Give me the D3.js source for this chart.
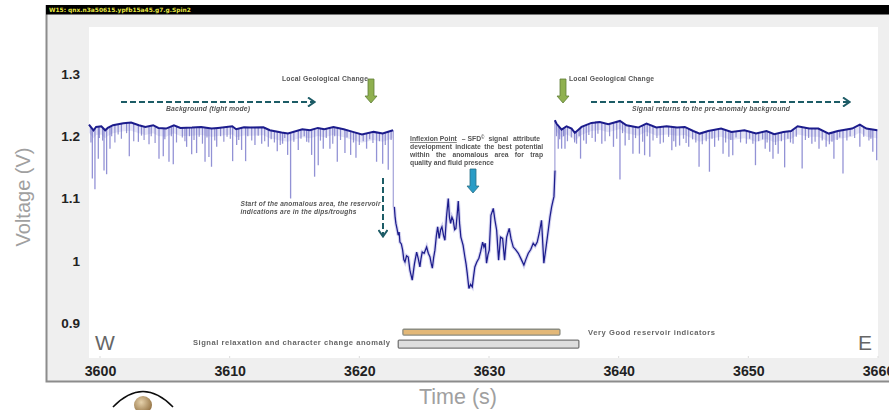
<!DOCTYPE html>
<html><head><meta charset="utf-8">
<script src="https://cdnjs.cloudflare.com/ajax/libs/d3/7.8.5/d3.min.js"></script>
<style>
html,body{margin:0;padding:0;background:#fff;overflow:hidden}
svg{display:block;font-family:"Liberation Sans",Arial,sans-serif}
</style></head><body>
<svg id="c" width="889" height="410"></svg>
<script>
const xTicks=[3600,3610,3620,3630,3640,3650,3660];
const yTicks=[0.9,1,1.1,1.2,1.3];
const yTickLabels=["0.9","1","1.1","1.2","1.3"];

const leftTimes=[3599.15,3599.5,3599.7,3600.1,3600.4,3600.6,3601,3601.8,3602.4,3603,3603.5,3604.1,3604.5,3605.1,3605.7,3606.2,3607.1,3607.8,3608.6,3609.1,3610.2,3610.5,3611.1,3611.6,3612.6,3613.1,3614,3614.5,3615.6,3616.2,3616.8,3617.3,3618,3618.8,3619.5,3620.2,3621.1,3621.8,3622.6];
const leftVolts=[1.2188,1.2096,1.215,1.216,1.2096,1.2134,1.2177,1.2209,1.222,1.2177,1.215,1.2177,1.2134,1.2123,1.2177,1.2134,1.214,1.215,1.2123,1.2134,1.216,1.2112,1.2144,1.214,1.2145,1.2096,1.2059,1.2043,1.2112,1.2096,1.2134,1.2112,1.215,1.2112,1.207,1.2027,1.207,1.2043,1.2096];

const anomalyTimes=[3622.7,3622.76,3622.82,3622.9,3623,3623.07,3623.13,3623.24,3623.34,3623.43,3623.52,3623.64,3623.77,3623.9,3624.08,3624.25,3624.42,3624.55,3624.67,3624.76,3624.85,3625,3625.19,3625.32,3625.45,3625.54,3625.63,3625.73,3625.83,3625.94,3626.04,3626.16,3626.27,3626.37,3626.5,3626.6,3626.72,3626.86,3626.95,3627.04,3627.14,3627.24,3627.35,3627.45,3627.55,3627.63,3627.73,3627.83,3628,3628.14,3628.23,3628.32,3628.45,3628.58,3628.71,3628.81,3628.91,3629.06,3629.22,3629.36,3629.51,3629.61,3629.71,3629.81,3629.92,3630.02,3630.15,3630.33,3630.46,3630.59,3630.74,3630.82,3630.89,3631.05,3631.2,3631.28,3631.36,3631.56,3631.7,3631.87,3632.05,3632.26,3632.47,3632.69,3632.86,3633.03,3633.22,3633.41,3633.56,3633.72,3633.88,3634.05,3634.23,3634.4,3634.57,3634.7,3634.83,3634.92,3635.01,3635.09];
const anomalyVolts=[1.0865,1.07,1.06,1.052,1.041,1.046,1.03,1.027,1.017,1.002,0.998,1.008,1.006,0.985,0.969,0.995,1.014,1.003,0.99,1.004,1.014,1.012,1.022,1.012,1.006,0.996,0.988,1.005,1.017,1.04,1.0545,1.036,1.05,1.0545,1.04,1.033,1.07,1.1,1.07,1.06,1.07,1.065,1.05,1.052,1.075,1.096,1.06,1.038,1.025,1.006,0.995,0.98,0.9555,0.962,0.958,0.975,0.99,0.998,1.004,1.015,1.03,1.022,1.028,0.996,1.01,1.017,1.073,1.084,1.065,1.049,1.001,1.02,1.038,1.036,1.001,1.02,1.038,1.052,1.035,1.022,1.018,1.012,1.003,0.993,1.003,1.012,1.018,1.028,1.024,1.03,1.045,1.065,0.996,1.022,1.049,1.07,1.0865,1.095,1.103,1.145];

const rightTimes=[3635.08,3635.2,3635.6,3635.98,3636.37,3636.62,3637.14,3637.9,3638.55,3639.2,3640.1,3640.6,3641.5,3642.15,3642.9,3643.7,3644.5,3645.1,3645.75,3646.26,3646.9,3647.9,3648.7,3649.7,3650.6,3651.4,3652,3652.7,3653.3,3653.8,3654.7,3655.4,3656.2,3656.9,3658,3658.6,3659.1,3659.95];
const rightVolts=[1.2257,1.2204,1.2107,1.216,1.2123,1.2054,1.215,1.2214,1.223,1.2193,1.2246,1.2177,1.214,1.2204,1.214,1.216,1.214,1.215,1.2085,1.2043,1.2085,1.2123,1.2069,1.2096,1.2043,1.2085,1.2032,1.2069,1.2085,1.216,1.2123,1.2123,1.2043,1.2085,1.2123,1.2188,1.2123,1.2096];

const dipTimes=[3599.41,3599.61,3599.87,3600.31,3600.51,3600.77,3602.26,3602.96,3603.78,3604.55,3604.88,3605.32,3605.65,3606.68,3607.07,3607.45,3608.1,3608.4,3608.6,3609,3610.23,3610.54,3610.92,3611.23,3611.95,3612.47,3612.98,3613.67,3614.08,3614.47,3614.7,3615.29,3615.94,3616.32,3616.55,3616.83,3617.22,3617.73,3618.3,3618.89,3619.33,3619.74,3620.56,3621.33,3621.8,3622.23,3635.34,3635.6,3635.86,3636.75,3637.06,3637.5,3638.2,3638.7,3639.6,3640.1,3640.5,3641.1,3641.6,3642,3642.4,3643.2,3644.1,3644.4,3644.7,3645.4,3646.2,3647,3647.4,3648.05,3648.5,3648.8,3649.85,3650.55,3651.3,3651.65,3651.9,3652.3,3652.8,3653.45,3654.15,3654.9,3655.45,3656,3656.6,3657.3,3658.6,3659.6,3659.9];
const dipVolts=[1.132,1.115,1.164,1.145,1.139,1.18,1.168,1.191,1.187,1.164,1.168,1.159,1.155,1.183,1.171,1.173,1.159,1.1665,1.151,1.183,1.16,1.186,1.178,1.16,1.186,1.188,1.183,1.176,1.188,1.17,1.1,1.178,1.191,1.17,1.135,1.1535,1.18,1.18,1.159,1.173,1.17,1.1655,1.18,1.159,1.156,1.146,1.18,1.18,1.18,1.188,1.164,1.188,1.191,1.188,1.183,1.1305,1.185,1.172,1.172,1.1695,1.167,1.188,1.1775,1.183,1.185,1.183,1.151,1.143,1.183,1.172,1.167,1.1695,1.188,1.1535,1.18,1.175,1.164,1.172,1.15,1.188,1.148,1.188,1.18,1.183,1.164,1.14,1.183,1.175,1.1615];

const shortTimes=[3599.3,3599.95,3600.2,3600.9,3601.15,3601.4,3601.65,3602.05,3602.6,3603.2,3603.4,3603.95,3604.25,3605,3605.5,3605.9,3606.35,3606.55,3606.9,3607.25,3607.65,3607.9,3608.25,3608.85,3609.3,3609.55,3609.8,3610.05,3610.7,3611.4,3611.7,3612.2,3612.7,3613.2,3613.45,3613.9,3614.25,3614.95,3615.5,3615.75,3616.1,3617,3617.45,3617.95,3618.1,3618.55,3619.05,3619.55,3620,3620.3,3620.8,3621.05,3621.55,3622,3622.45,3635.2,3635.45,3635.75,3636.05,3636.35,3636.6,3636.95,3637.3,3637.7,3637.95,3638.4,3638.95,3639.3,3639.85,3640.3,3640.8,3641.3,3641.85,3642.2,3642.65,3642.95,3643.45,3643.85,3644.25,3645,3645.2,3645.7,3645.95,3646.45,3646.75,3647.2,3647.7,3648.25,3648.65,3649.05,3649.4,3650.1,3650.35,3650.8,3651.1,3651.45,3652.1,3652.55,3653.05,3653.25,3653.7,3654.4,3654.65,3655.15,3655.7,3656.25,3656.45,3656.85,3657.05,3657.6,3657.85,3658.2,3658.9,3659.3,3659.45];
const shortLows=[1.19,1.197,1.193,1.2,1.19,1.203,1.196,1.205,1.192,1.201,1.194,1.2,1.189,1.195,1.2,1.19,1.198,1.192,1.2,1.194,1.199,1.188,1.198,1.193,1.2,1.191,1.199,1.196,1.194,1.2,1.193,1.201,1.192,1.195,1.19,1.186,1.197,1.191,1.196,1.2,1.19,1.193,1.197,1.188,1.2,1.194,1.198,1.19,1.186,1.192,1.195,1.189,1.192,1.186,1.194,1.2,1.195,1.2,1.192,1.198,1.19,1.2,1.193,1.202,1.197,1.204,1.192,1.2,1.196,1.205,1.194,1.197,1.191,1.2,1.193,1.197,1.19,1.199,1.192,1.196,1.189,1.195,1.19,1.187,1.192,1.196,1.193,1.19,1.194,1.198,1.19,1.196,1.188,1.192,1.195,1.19,1.186,1.192,1.196,1.19,1.199,1.194,1.197,1.191,1.193,1.187,1.191,1.194,1.198,1.193,1.2,1.197,1.199,1.193,1.196];

const cliffTimes=[3622.62,3635.08];
const cliffTops=[1.2096,1.2257];
const cliffLows=[1.0865,1.145];
const fringeDepth=0.013;

const tanBar=[3623.36,3635.47,0.890,0.8806];
const greyBar=[3623.0,3636.93,0.8726,0.8597];

const svg=d3.select("#c");
const x=d3.scaleLinear().domain([3600,3660]).range([100,878]);
const y=d3.scaleLinear().domain([0.9,1.3]).range([323,74]);
const navy="#1c1c8c";

const defs=svg.append("defs");
defs.append("filter").attr("id","soft").append("feGaussianBlur").attr("stdDeviation",0.5);
const rg=defs.append("radialGradient").attr("id","ball").attr("cx","40%").attr("cy","35%").attr("r","70%");
rg.append("stop").attr("offset","0").attr("stop-color","#e6d2ac");
rg.append("stop").attr("offset","1").attr("stop-color","#8f6d3d");
defs.append("marker").attr("id","chev").attr("viewBox","0 0 10 10").attr("refX",8).attr("refY",5)
  .attr("markerWidth",10).attr("markerHeight",10).attr("markerUnits","userSpaceOnUse").attr("orient","auto")
  .append("path").attr("d","M2,0.5L8.5,5L2,9.5").attr("fill","none").attr("stroke","#1f5b66").attr("stroke-width",2);

/* panel */
svg.append("rect").attr("x",46).attr("y",5).attr("width",843).attr("height",377).attr("fill","#efefef");
svg.append("rect").attr("x",89).attr("y",27).attr("width",789).attr("height",331).attr("fill","#fff");
svg.append("path").attr("d","M46.5,5V381.5H889").attr("fill","none").attr("stroke","#8c8c8c").attr("stroke-width",2);
svg.append("rect").attr("x",46).attr("y",5).attr("width",843).attr("height",9.5).attr("fill","#000");
svg.append("text").attr("x",49).attr("y",12.2).attr("fill","#e6e640").attr("font-family","DejaVu Sans")
  .attr("font-weight","bold").attr("font-size",5.9).text("W15: qnx.n3a50615.ypfb15a45.g7.g.Spin2");

/* axes */
const ax=svg.append("g").attr("transform","translate(0,358)")
  .call(d3.axisBottom(x).tickValues(xTicks).tickFormat(d3.format("d")).tickSize(0).tickPadding(8));
ax.select(".domain").remove();
ax.selectAll("text").attr("font-family","Liberation Sans").attr("font-weight","bold").attr("font-size",14.2).attr("fill","#222");
svg.append("g").selectAll("line").data(xTicks).join("line").attr("x1",x).attr("x2",x).attr("y1",356).attr("y2",358).attr("stroke","#ddd");
const ay=svg.append("g").attr("transform","translate(89,0)")
  .call(d3.axisLeft(y).tickValues(yTicks).tickFormat((d,i)=>yTickLabels[i]).tickSize(0).tickPadding(9));
ay.select(".domain").remove();
ay.selectAll("text").attr("font-family","Liberation Sans").attr("font-weight","bold").attr("font-size",13.5).attr("fill","#222");

svg.append("text").attr("transform","translate(30,197) rotate(-90)").attr("text-anchor","middle")
  .attr("font-size",20).attr("fill","#a0a0a0").text("Voltage (V)");
svg.append("text").attr("x",458).attr("y",404).attr("text-anchor","middle").attr("font-size",21.5).attr("fill","#a0a0a0").text("Time (s)");
svg.append("text").attr("x",95).attr("y",350).attr("font-size",21).attr("fill","#666").text("W");
svg.append("text").attr("x",858).attr("y",350).attr("font-size",21).attr("fill","#666").text("E");

/* signal */
const sig=svg.append("g").attr("filter","url(#soft)");
const bgT=[...leftTimes,...rightTimes], bgV=[...leftVolts,...rightVolts];
const env=d3.scaleLinear().domain(bgT).range(bgV);
const band=d3.area().x(d=>x(d[0])).y0(d=>y(d[1])).y1(d=>y(d[1]-fringeDepth));
[[leftTimes,leftVolts],[rightTimes,rightVolts]].forEach(([t,v])=>{
  sig.append("path").attr("d",band(t.map((a,i)=>[a,v[i]]))).attr("fill","#d4d3f0").attr("opacity",0.6);
});
sig.selectAll("line.dip").data(dipTimes).join("line").attr("class","dip")
  .attr("x1",d=>x(d)).attr("x2",d=>x(d)).attr("y1",d=>y(env(d)))
  .attr("y2",(d,i)=>y(dipVolts[i])).attr("stroke","#6665c4").attr("stroke-width",1.3).attr("opacity",0.7);
sig.selectAll("line.short").data(shortTimes).join("line").attr("class","short")
  .attr("x1",d=>x(d)).attr("x2",d=>x(d)).attr("y1",d=>y(env(d)))
  .attr("y2",(d,i)=>y(shortLows[i])).attr("stroke","#4e4db4").attr("stroke-width",1.2).attr("opacity",0.6);
sig.selectAll("line.cliff").data(cliffTimes).join("line").attr("class","cliff")
  .attr("x1",d=>x(d)).attr("x2",d=>x(d)).attr("y1",(d,i)=>y(cliffTops[i]))
  .attr("y2",(d,i)=>y(cliffLows[i])).attr("stroke","#a9a8dc").attr("stroke-width",1.3);
const line=d3.line().x(d=>x(d[0])).y(d=>y(d[1]));
const anomaly=anomalyTimes.map((a,i)=>[a,anomalyVolts[i]]);
sig.append("path").attr("d",line(anomaly)).attr("fill","none").attr("stroke","#c2c1ea").attr("stroke-width",3.4).attr("opacity",0.7);
sig.append("path").attr("d",line(anomaly)).attr("fill","none").attr("stroke",navy).attr("stroke-width",1.25);
[[leftTimes,leftVolts],[rightTimes,rightVolts]].forEach(([t,v])=>{
  sig.append("path").attr("d",line(t.map((a,i)=>[a,v[i]]))).attr("fill","none").attr("stroke",navy).attr("stroke-width",2);
});

/* annotations */
const ann=svg.append("g").attr("filter","url(#soft)");
const dash=(x1,y1,x2,y2)=>ann.append("line").attr("x1",x1).attr("y1",y1).attr("x2",x2).attr("y2",y2)
  .attr("stroke","#1f5b66").attr("stroke-width",2).attr("stroke-dasharray","6,3").attr("marker-end","url(#chev)");
dash(121,102,314,102); dash(591,102,849,102); dash(383,178,383,236);

const blockArrow=(cx,top,bot,fill,stroke)=>ann.append("path")
  .attr("d",`M${cx-3},${top}H${cx+3}V${bot-7}H${cx+6}L${cx},${bot}L${cx-6},${bot-7}H${cx-3}Z`)
  .attr("fill",fill).attr("stroke",stroke).attr("stroke-width",0.8);
blockArrow(371,79,103,"#8fb04f","#5f7d37");
blockArrow(563,79,103,"#8fb04f","#5f7d37");
blockArrow(473,169,193,"#2a9cc6","#2b6f87");

const label=(tx,ty,s,opt={})=>{
  const t=ann.append("text").attr("x",tx).attr("y",ty).attr("font-size",opt.size||7)
   .attr("font-weight",opt.weight||"bold").attr("font-style",opt.italic?"italic":"normal")
   .attr("fill",opt.fill||"#555").attr("text-anchor",opt.anchor||"start").text(s);
  if(opt.len){t.attr("textLength",opt.len).attr("lengthAdjust","spacing");}
  return t;
};
label(282,80.5,"Local Geological Change",{len:86,size:6.8});
label(569,80.5,"Local Geological Change",{len:85,size:6.8});
label(166,111,"Background (tight mode)",{italic:true,len:84,size:6.8});
label(632,111,"Signal returns to the pre-anomaly background",{italic:true,len:158,size:6.8});
label(240.5,206,"Start of the anomalous area, the reservoir",{italic:true,len:140,size:6.6});
label(240.5,213.5,"indications are in the dips/troughs",{italic:true,len:116,size:6.6});
const l1=label(410,141,"",{size:6.8});
l1.append("tspan").attr("text-decoration","underline").text("Inflexion Point");
l1.append("tspan").attr("dx",5).text("–  SFD");
l1.append("tspan").attr("dy",-2).attr("font-size",4.5).text("©");
l1.append("tspan").attr("dy",2).attr("dx",4).attr("word-spacing",3).text("signal attribute");
const j=label(410,149,"development indicate the best potential",{size:6.8}); j.attr("word-spacing",1.4);
const k=label(410,157,"within the anomalous area for trap",{size:6.8}); k.attr("word-spacing",4.4);
label(410,165,"quality and fluid presence",{size:6.8});
label(193,344.5,"Signal relaxation and character change anomaly",{len:197,size:7.6,fill:"#666"});
label(588,334.5,"Very Good reservoir indicators",{len:127,size:7.6,fill:"#666"});

const bar=(b,fill,stroke)=>ann.append("rect").attr("x",x(b[0])).attr("width",x(b[1])-x(b[0]))
  .attr("y",y(b[2])).attr("height",y(b[3])-y(b[2])).attr("rx",1).attr("fill",fill).attr("stroke",stroke).attr("stroke-width",1.3);
bar(tanBar,"#e3b878","#8c8c80");
bar(greyBar,"#dedede","#777");

/* logo */
const logo=svg.append("g").attr("filter","url(#soft)");
logo.append("path").attr("d","M113,407Q143,376 173,407").attr("fill","none").attr("stroke","#111").attr("stroke-width",1.6);
logo.append("circle").attr("cx",143).attr("cy",405).attr("r",9).attr("fill","url(#ball)");
</script>
</body></html>
